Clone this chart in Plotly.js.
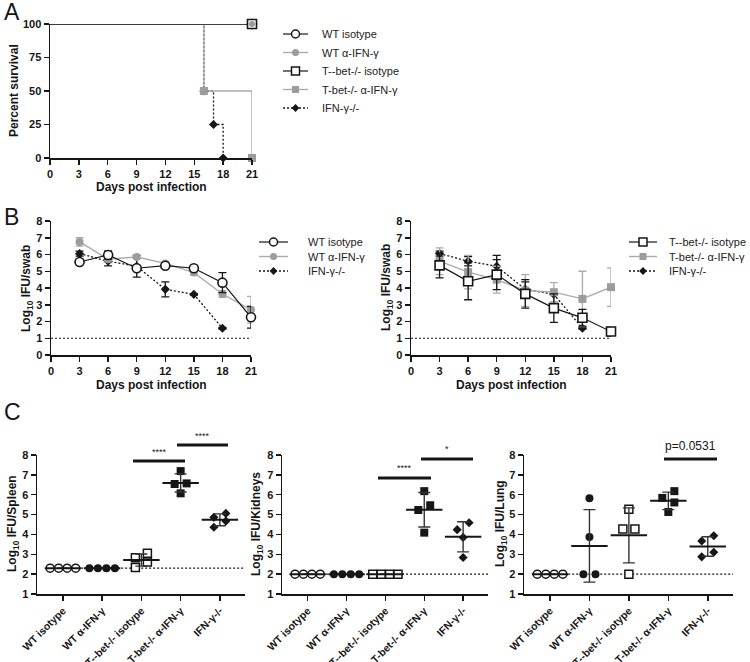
<!DOCTYPE html>
<html><head><meta charset="utf-8">
<script src="https://cdn.plot.ly/plotly-3.0.1.min.js"></script>
<style>html,body{margin:0;padding:0;background:#fff}#chart{width:750px;height:662px}</style>
</head><body><div id="chart"></div>
<script>
// ================= DATA =================
// Panel A: survival (Kaplan-Meier steps)
const survWtIsoDays = [0, 21];          const survWtIsoPct = [100, 100];
const survWtAntiDays = [0, 21];         const survWtAntiPct = [100, 100];
const survTbetIsoDays = [0, 21];        const survTbetIsoPct = [100, 100];
const survTbetAntiDays = [0, 16, 21];   const survTbetAntiPct = [100, 50, 0];
const survIfngDays = [0, 16, 17, 18];   const survIfngPct = [100, 50, 25, 0];
const survTicks = [0, 3, 6, 9, 12, 15, 18, 21];
const pctTicks = [0, 25, 50, 75, 100];

// Panel B: Log10 IFU/swab (mean, SD)
const swabDays = [3, 6, 9, 12, 15, 18, 21];
const ifngSwabDays = [3, 6, 9, 12, 15, 18];
const wtIsoSwab = [5.55, 5.97, 5.18, 5.33, 5.18, 4.32, 2.25];
const wtIsoSwabSD = [0.08, 0.25, 0.1, 0.08, 0.08, 0.6, 0.65];
const wtAntiSwab = [6.75, 5.72, 5.85, 5.47, 4.92, 3.64, 2.7];
const wtAntiSwabSD = [0.25, 0.1, 0.1, 0.08, 0.15, 0.2, 0.8];
const tbetIsoSwab = [5.35, 4.4, 4.8, 3.65, 2.8, 2.22, 1.4];
const tbetIsoSwabSD = [0.75, 1.1, 0.9, 0.85, 0.85, 0.5, 0.27];
const tbetAntiSwab = [5.6, 4.95, 4.5, 3.85, 3.75, 3.35, 4.05];
const tbetAntiSwabSD = [0.8, 1.0, 0.8, 0.95, 0.57, 1.65, 1.15];
const ifngSwab = [6.05, 5.6, 5.3, 3.92, 3.62, 1.6];
const ifngSwabSD = [0.15, 0.28, 0.65, 0.45, 0.05, 0.05];
const swabLOD = 1;
const logTicks = [0, 1, 2, 3, 4, 5, 6, 7, 8];

// Panel C: organ burdens (individual mice)
const organGroups = ['WT isotype', 'WT α-IFN-γ', 'T--bet-/- isotype', 'T-bet-/- α-IFN-γ', 'IFN-γ-/-'];
const legendNames = ['WT isotype', 'WT α-IFN-γ', 'T--bet-/- isotype', 'T-bet-/- α-IFN-γ', 'IFN-γ-/-'];
const spleenWtIso = [2.3, 2.3, 2.3, 2.3];
const spleenWtAnti = [2.3, 2.3, 2.3, 2.3];
const spleenTbetIso = [3.05, 2.83, 2.61, 2.34];
const spleenTbetAnti = [7.19, 6.57, 6.54, 6.07];
const spleenIfng = [5.06, 4.86, 4.67, 4.36];
const kidneyWtIso = [2, 2, 2, 2];
const kidneyWtAnti = [2, 2, 2, 2];
const kidneyTbetIso = [2, 2, 2, 2];
const kidneyTbetAnti = [6.18, 5.47, 5.23, 4.09];
const kidneyIfng = [4.59, 4.24, 3.85, 2.84];
const lungWtIso = [2, 2, 2, 2];
const lungWtAnti = [5.82, 3.87, 2.0, 2.0];
const lungTbetIso = [5.27, 4.27, 4.27, 2.0];
const lungTbetAnti = [6.18, 5.84, 5.61, 5.13];
const lungIfng = [3.93, 3.67, 3.1, 2.87];
const spleenLOD = 2.3, kidneyLOD = 2, lungLOD = 2;
const organTicks = [1, 2, 3, 4, 5, 6, 7, 8];

// ================= STYLE / HELPERS =================
const W = 750, H = 662;
const px = v => v / W;
const py = v => 1 - v / H;
const FONT = 'Liberation Sans, Arial, Helvetica, sans-serif';
const BLK = '#161616', GRY = '#9c9c9c', GRYL = '#ababab';

function axis(extra) {
  return Object.assign({
    showline: true, linecolor: BLK, linewidth: 1.5,
    ticks: 'outside', ticklen: 5, tickwidth: 1.5, tickcolor: BLK,
    showgrid: false, zeroline: false, fixedrange: true,
    tickfont: {family: FONT, size: 11, color: BLK, weight: 'bold'}
  }, extra);
}

const styles = {
  wtIso:   {line: {color: BLK, width: 1.2}, marker: {symbol: 'circle', size: 9, color: '#fff', line: {color: BLK, width: 1.6}}, err: BLK},
  wtAnti:  {line: {color: GRYL, width: 1.4}, marker: {symbol: 'circle', size: 8, color: GRY, line: {width: 0}}, err: GRYL},
  tbetIso: {line: {color: BLK, width: 1.2}, marker: {symbol: 'square', size: 9, color: '#fff', line: {color: BLK, width: 1.6}}, err: BLK},
  tbetAnti:{line: {color: GRYL, width: 1.4}, marker: {symbol: 'square', size: 8, color: GRY, line: {width: 0}}, err: GRYL},
  ifng:    {line: {color: BLK, width: 1.3, dash: '2px,2px'}, marker: {symbol: 'diamond', size: 7, color: BLK, line: {width: 0}}, err: BLK}
};
const legMarker = {
  wtIso:   {symbol: 'circle', size: 8, color: '#fff', line: {color: BLK, width: 1.5}},
  wtAnti:  {symbol: 'circle', size: 7, color: GRY, line: {width: 0}},
  tbetIso: {symbol: 'square', size: 8, color: '#fff', line: {color: BLK, width: 1.5}},
  tbetAnti:{symbol: 'square', size: 7, color: GRY, line: {width: 0}},
  ifng:    {symbol: 'diamond', size: 6, color: BLK, line: {width: 0}}
};

const traces = [];

// ---------- Panel A ----------
const survSets = [
  ['ifng', survIfngDays, survIfngPct],
  ['tbetAnti', survTbetAntiDays, survTbetAntiPct],
  ['wtAnti', survWtAntiDays, survWtAntiPct],
  ['tbetIso', survTbetIsoDays, survTbetIsoPct],
  ['wtIso', survWtIsoDays, survWtIsoPct]
];
survSets.forEach(([k, d, p]) => {
  traces.push({x: d, y: p, mode: 'lines', line: Object.assign({shape: 'hv'}, styles[k].line),
    xaxis: 'x', yaxis: 'y', showlegend: false, cliponaxis: false});
});
[['ifng', survIfngDays, survIfngPct], ['tbetAnti', survTbetAntiDays, survTbetAntiPct],
 ['wtIso', survWtIsoDays, survWtIsoPct], ['tbetIso', survTbetIsoDays, survTbetIsoPct],
 ['wtAnti', survWtAntiDays, survWtAntiPct]].forEach(([k, d, p]) => {
  const m = Object.assign({}, styles[k].marker);
  if (k === 'wtAnti') m.size = 6;
  traces.push({x: d.slice(1), y: p.slice(1), mode: 'markers', marker: m,
    xaxis: 'x', yaxis: 'y', showlegend: false, cliponaxis: false});
});

// ---------- Panel B ----------
function swabTrace(days, vals, sd, st, xa, ya) {
  traces.push({x: days, y: vals, mode: 'lines+markers', line: st.line, marker: st.marker,
    error_y: {type: 'data', array: sd, visible: true, color: st.err, thickness: 1.3, width: 4},
    xaxis: xa, yaxis: ya, showlegend: false, cliponaxis: false});
}
swabTrace(ifngSwabDays, ifngSwab, ifngSwabSD, styles.ifng, 'x2', 'y2');
swabTrace(swabDays, wtAntiSwab, wtAntiSwabSD, styles.wtAnti, 'x2', 'y2');
swabTrace(swabDays, wtIsoSwab, wtIsoSwabSD, styles.wtIso, 'x2', 'y2');
swabTrace(ifngSwabDays, ifngSwab, ifngSwabSD, styles.ifng, 'x3', 'y3');
swabTrace(swabDays, tbetAntiSwab, tbetAntiSwabSD, styles.tbetAnti, 'x3', 'y3');
swabTrace(swabDays, tbetIsoSwab, tbetIsoSwabSD, styles.tbetIso, 'x3', 'y3');

// ---------- Panel C ----------
const C_PX_PER_Y = (594 - 455) / 7;
const C_RANGE_X = [-0.66, 4.64];
const C_PX_PER_X = 208 / (C_RANGE_X[1] - C_RANGE_X[0]);

function spreadOffsets(vals, collidePx) {
  const idx = vals.map((v, i) => i).sort((a, b) => vals[b] - vals[a]);
  const off = vals.map(() => 0);
  const clusters = []; let cur = [idx[0]];
  for (let k = 1; k < idx.length; k++) {
    const dy = (vals[idx[k - 1]] - vals[idx[k]]) * C_PX_PER_Y;
    if (dy < collidePx) cur.push(idx[k]); else { clusters.push(cur); cur = [idx[k]]; }
  }
  clusters.push(cur);
  clusters.forEach(c => {
    if (c.length < 2) return;
    const allEq = c.every(i => Math.abs(vals[i] - vals[c[0]]) < 1e-9);
    c.forEach((i, k) => {
      const p = allEq ? (k - (c.length - 1) / 2) * (c.length === 2 ? 12 : 8.5) : (k % 2 === 0 ? 6 : -6);
      off[i] = p / C_PX_PER_X;
    });
  });
  return off;
}
const mean = a => a.reduce((s, v) => s + v, 0) / a.length;
const sd = a => { const m = mean(a); return Math.sqrt(a.reduce((s, v) => s + (v - m) * (v - m), 0) / (a.length - 1)); };

const cMarkers = [
  {symbol: 'circle', size: 8, color: '#fff', line: {color: BLK, width: 1.5}},
  {symbol: 'circle', size: 8, color: BLK, line: {width: 0}},
  {symbol: 'square', size: 8, color: '#fff', line: {color: BLK, width: 1.5}},
  {symbol: 'square', size: 8, color: BLK, line: {width: 0}},
  {symbol: 'diamond', size: 7, color: BLK, line: {width: 0}}
];
function organPanel(groups, xa, ya) {
  groups.forEach((vals, g) => {
    const off = spreadOffsets(vals, cMarkers[g].size + 0.5);
    traces.push({x: vals.map((v, i) => g + off[i]), y: vals, mode: 'markers', marker: cMarkers[g],
      xaxis: xa, yaxis: ya, showlegend: false, cliponaxis: false});
  });
  groups.forEach((vals, g) => {
    traces.push({x: [g], y: [mean(vals)], mode: 'markers',
      marker: {symbol: 'line-ew', size: 26, line: {color: BLK, width: 2}},
      error_y: {type: 'data', array: [sd(vals)], visible: true, color: '#333', thickness: 1.4, width: 6},
      xaxis: xa, yaxis: ya, showlegend: false, cliponaxis: false});
  });
}
organPanel([spleenWtIso, spleenWtAnti, spleenTbetIso, spleenTbetAnti, spleenIfng], 'x4', 'y4');
organPanel([kidneyWtIso, kidneyWtAnti, kidneyTbetIso, kidneyTbetAnti, kidneyIfng], 'x5', 'y5');
organPanel([lungWtIso, lungWtAnti, lungTbetIso, lungTbetAnti, lungIfng], 'x6', 'y6');

// ---------- Legends (drawn on a pixel overlay axis) ----------
const annotations = [];
function legendBlock(keys, names, lineX0, lineX1, textX, rowsY) {
  keys.forEach((k, i) => {
    const y = rowsY[i];
    traces.push({x: [lineX0, lineX1], y: [y, y], mode: 'lines', line: styles[k].line,
      xaxis: 'x7', yaxis: 'y7', showlegend: false, cliponaxis: false});
    traces.push({x: [(lineX0 + lineX1) / 2], y: [y], mode: 'markers', marker: legMarker[k],
      xaxis: 'x7', yaxis: 'y7', showlegend: false, cliponaxis: false});
    annotations.push({xref: 'paper', yref: 'paper', x: px(textX), y: py(y), text: names[i], showarrow: false,
      xanchor: 'left', yanchor: 'middle', font: {family: FONT, size: 11, color: '#222'}});
  });
}
legendBlock(['wtIso', 'wtAnti', 'tbetIso', 'tbetAnti', 'ifng'], legendNames, 283, 308, 320, [34, 52.5, 71, 89.5, 108]);
legendBlock(['wtIso', 'wtAnti', 'ifng'], [legendNames[0], legendNames[1], legendNames[4]], 259, 288, 306, [242, 256.5, 271]);
legendBlock(['tbetIso', 'tbetAnti', 'ifng'], [legendNames[2], legendNames[3], legendNames[4]], 629, 657, 667, [242, 256.5, 271]);

// ================= LAYOUT =================
const cx = (d, a) => axis({domain: d, range: C_RANGE_X, tickvals: [0, 1, 2, 3, 4], ticktext: organGroups, tickangle: -45, anchor: a,
  tickfont: {family: FONT, size: 10.5, color: BLK, weight: 'bold'}});
const cy = (a) => axis({domain: [py(594), py(455)], range: [1, 8], tickvals: organTicks, anchor: a});

const dotted = {color: BLK, width: 1.2, dash: '2px,2px'};
const shapes = [
  {type: 'line', xref: 'x2', yref: 'y2', x0: 0, x1: 21, y0: swabLOD, y1: swabLOD, line: dotted},
  {type: 'line', xref: 'x3', yref: 'y3', x0: 0, x1: 21, y0: swabLOD, y1: swabLOD, line: dotted},
  {type: 'line', xref: 'x4', yref: 'y4', x0: -0.35, x1: C_RANGE_X[1], y0: spleenLOD, y1: spleenLOD, line: dotted, layer: 'below'},
  {type: 'line', xref: 'x5', yref: 'y5', x0: -0.35, x1: C_RANGE_X[1], y0: kidneyLOD, y1: kidneyLOD, line: dotted, layer: 'below'},
  {type: 'line', xref: 'x6', yref: 'y6', x0: -0.35, x1: C_RANGE_X[1], y0: lungLOD, y1: lungLOD, line: dotted, layer: 'below'}
];
// significance bars (pixel positions)
const sigBars = [[133, 185, 461, '****', 452], [177, 228, 445, '****', 436],
                 [378, 431, 478, '****', 468], [421, 473, 459, '*', 449],
                 [664, 717, 459, 'p=0.0531', 446]];
sigBars.forEach(([a, b, y, t, ty]) => {
  shapes.push({type: 'line', xref: 'paper', yref: 'paper', x0: px(a), x1: px(b), y0: py(y), y1: py(y), line: {color: BLK, width: 3}});
  annotations.push({xref: 'paper', yref: 'paper', x: px((a + b) / 2), y: py(ty), text: t, showarrow: false,
    xanchor: 'center', yanchor: 'middle', font: {family: FONT, size: t[0] === 'p' ? 12 : 9, color: BLK}});
});
// panel letters
[['A', 12], ['B', 217], ['C', 412]].forEach(([t, y]) => {
  annotations.push({xref: 'paper', yref: 'paper', x: px(2), y: py(y), text: t, showarrow: false,
    xanchor: 'left', yanchor: 'middle', font: {family: FONT, size: 23, color: BLK}});
});
// axis titles
const titleFont = {family: FONT, size: 12, color: BLK, weight: 'bold'};
[['Days post infection', 151, 187, 0], ['Days post infection', 151, 385, 0], ['Days post infection', 511, 385, 0],
 ['Percent survival', 14, 91, -90], ['Log<sub>10</sub> IFU/swab', 27, 288, -90], ['Log<sub>10</sub> IFU/swab', 387, 288, -90],
 ['Log<sub>10</sub> IFU/Spleen', 13, 524, -90], ['Log<sub>10</sub> IFU/Kidneys', 257, 524, -90], ['Log<sub>10</sub> IFU/Lung', 501, 524, -90]
].forEach(([t, x, y, ang]) => {
  annotations.push({xref: 'paper', yref: 'paper', x: px(x), y: py(y), text: t, textangle: ang, showarrow: false,
    xanchor: 'center', yanchor: 'middle', font: titleFont});
});

const layout = {
  width: W, height: H, margin: {l: 0, r: 0, t: 0, b: 0}, paper_bgcolor: '#fff', plot_bgcolor: 'rgba(0,0,0,0)',
  font: {family: FONT, color: BLK}, showlegend: false, hovermode: false,
  xaxis: axis({domain: [px(50), px(252)], range: [0, 21], tickvals: survTicks, anchor: 'y'}),
  yaxis: axis({domain: [py(158), py(24)], range: [0, 100], tickvals: pctTicks, anchor: 'x'}),
  xaxis2: axis({domain: [px(51), px(251)], range: [0, 21], tickvals: survTicks, anchor: 'y2'}),
  yaxis2: axis({domain: [py(355), py(221)], range: [0, 8], tickvals: logTicks, anchor: 'x2'}),
  xaxis3: axis({domain: [px(411), px(611)], range: [0, 21], tickvals: survTicks, anchor: 'y3'}),
  yaxis3: axis({domain: [py(355), py(221)], range: [0, 8], tickvals: logTicks, anchor: 'x3'}),
  xaxis4: cx([px(37), px(245)], 'y4'), yaxis4: cy('x4'),
  xaxis5: cx([px(282), px(488)], 'y5'), yaxis5: cy('x5'),
  xaxis6: cx([px(524), px(733)], 'y6'), yaxis6: cy('x6'),
  xaxis7: {domain: [0, 1], range: [0, W], visible: false, fixedrange: true, anchor: 'y7'},
  yaxis7: {domain: [0, 1], range: [H, 0], visible: false, fixedrange: true, anchor: 'x7'},
  shapes: shapes, annotations: annotations
};

Plotly.newPlot('chart', traces, layout, {displayModeBar: false, staticPlot: true});
</script></body></html>
